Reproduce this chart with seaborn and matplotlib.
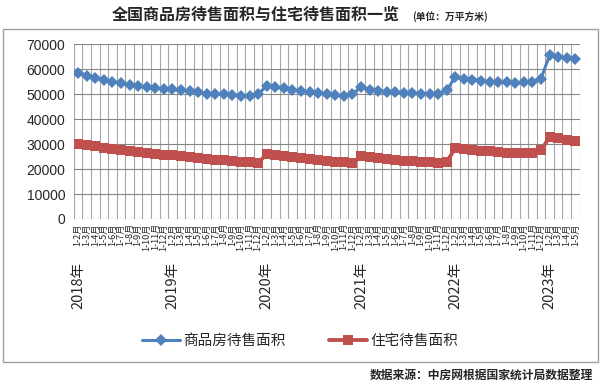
import numpy as np
import pandas as pd
import matplotlib.pyplot as plt
import matplotlib.transforms as mtransforms
from matplotlib.patches import Rectangle
import seaborn as sns

years = ['2018年', '2019年', '2020年', '2021年', '2022年', '2023年']
months = ['1-2月', '1-3月', '1-4月', '1-5月', '1-6月', '1-7月',
          '1-8月', '1-9月', '1-10月', '1-11月', '1-12月']
months_per_year = [11, 11, 11, 11, 11, 4]

# 万平方米
commercial = [58600, 57500, 56700, 55800, 55100, 54400, 53800, 53200, 52800, 52400, 52300,
              52000, 51600, 51200, 50900, 50300, 50200, 50100, 49700, 49500, 49400, 50200,
              53300, 52900, 52400, 51700, 51200, 50900, 50500, 50300, 49600, 49300, 50200,
              52900, 51900, 51400, 51000, 50900, 50700, 50500, 50300, 50300, 50300, 51600,
              57000, 56300, 55900, 55500, 55000, 54800, 54800, 54400, 54800, 55100, 56300,
              65700, 65100, 64700, 64200]
residential = [30200, 29600, 29100, 28600, 28100, 27700, 27300, 26900, 26500, 26100, 25600,
               25800, 25400, 25000, 24600, 24200, 23800, 23500, 23200, 22900, 22700, 22500,
               26000, 25600, 25200, 24800, 24400, 24000, 23600, 23300, 23000, 22700, 22500,
               25100, 24700, 24300, 24000, 23700, 23400, 23200, 23000, 22800, 22600, 23000,
               28300, 28000, 27700, 27400, 27100, 26800, 26600, 26400, 26400, 26600, 27500,
               32900, 32300, 31800, 31300]

names = ['商品房待售面积', '住宅待售面积']
colors = {'商品房待售面积': '#4F81BD', '住宅待售面积': '#C0504D'}

labels = []
for y, n in zip(years, months_per_year):
    labels += months[:n]
n = len(labels)

df = pd.DataFrame({
    'idx': np.tile(np.arange(n), 2),
    'value': commercial + residential,
    'series': [names[0]] * n + [names[1]] * n,
})

sns.set_style('white')
plt.rcParams['font.family'] = ['Noto Sans CJK SC', 'DejaVu Sans']

fig = plt.figure(figsize=(6, 3.9), dpi=100)
ax = fig.add_axes([0.123, 0.4385, 0.843, 0.4475])

sns.lineplot(data=df, x='idx', y='value', hue='series', style='series',
             markers={names[0]: 'D', names[1]: 's'}, dashes=False,
             palette=colors, ax=ax, legend=False)

lines = ax.lines[:2]
lines[0].set_linewidth(2.2)
lines[0].set_markersize(5.8)
lines[1].set_linewidth(2.8)
lines[1].set_markersize(7)
for l in lines:
    l.set_markeredgewidth(0)

ax.set_xlim(-0.5, n - 0.5)
ax.set_ylim(0, 70000)
ax.set_yticks(range(0, 70001, 10000))
ax.set_yticklabels([str(v) for v in range(0, 70001, 10000)],
                   fontsize=10, family='Liberation Sans')
ax.set_xticks(range(n))
ax.set_xticklabels(labels, rotation=90, fontsize=6.6)
ax.set_xticks(np.arange(-0.5, n, 1), minor=True)
ax.tick_params(axis='x', which='major', length=0, pad=3)
ax.tick_params(axis='x', which='minor', length=3, color='#868686')
ax.tick_params(axis='y', length=0, pad=6)
ax.grid(axis='y', color='#868686', lw=0.8)
ax.grid(axis='x', which='minor', color='#A6A6A6', lw=0.8)
ax.grid(axis='x', which='major', visible=False)
ax.set_xlabel('')
ax.set_ylabel('')
for s in ax.spines.values():
    s.set_visible(False)

trans = mtransforms.blended_transform_factory(ax.transData, ax.transAxes)
start = 0
for y, m in zip(years, months_per_year):
    ax.text(start, -0.245, y, rotation=90, ha='center', va='top',
            fontsize=10.5, transform=trans)
    start += m

fig.legend(handles=lines, labels=names, loc='center', bbox_to_anchor=(0.5, 0.126),
           ncol=2, frameon=False, fontsize=10.5, handlelength=2.6,
           columnspacing=3, handletextpad=0.2, numpoints=1)

fig.text(0.427, 0.9615, '全国商品房待售面积与住宅待售面积一览', ha='center', va='center',
         fontsize=11.5, weight='bold')
fig.text(0.687, 0.958, '(单位：万平方米)', ha='left', va='center',
         fontsize=7, weight='bold')
fig.text(0.988, 0.02, '数据来源：中房网根据国家统计局数据整理', ha='right', va='bottom',
         fontsize=8.5, weight='bold')

fig.patches.append(Rectangle((3 / 600, 1 - 362 / 390), 595 / 600, 333 / 390,
                             transform=fig.transFigure, fill=False,
                             edgecolor='#A0A0A0', lw=1))

fig.savefig('out.png', dpi=100)
